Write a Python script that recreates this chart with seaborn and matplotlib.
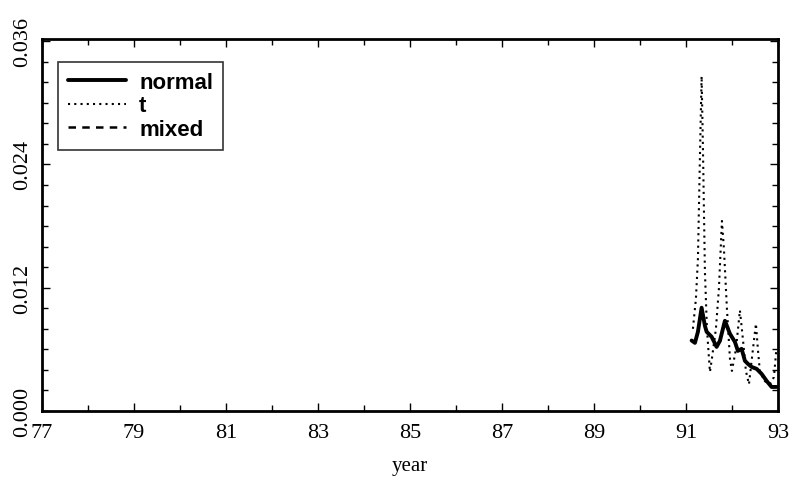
import matplotlib
matplotlib.use("Agg")
import matplotlib.pyplot as plt
import seaborn as sns
import pandas as pd
from matplotlib.ticker import MultipleLocator, FixedLocator

# Estimated volatility series (year, value)
normal_year = [91.124, 91.196, 91.261, 91.341, 91.413, 91.450, 91.559, 91.667,
               91.739, 91.848, 91.957, 92.065, 92.130, 92.211, 92.283, 92.348,
               92.428, 92.537, 92.646, 92.754, 92.863, 92.971]
normal_val = [0.00686, 0.00663, 0.00771, 0.01005, 0.00829, 0.00771, 0.00722, 0.00624,
              0.00683, 0.00878, 0.00751, 0.00673, 0.00585, 0.00605, 0.00488, 0.00459,
              0.00429, 0.00410, 0.00361, 0.00293, 0.00234, 0.00234]

t_year = [91.152, 91.217, 91.261, 91.304, 91.341, 91.370, 91.413, 91.457, 91.522,
          91.565, 91.652, 91.717, 91.783, 91.826, 91.891, 91.957, 92.000, 92.087,
          92.174, 92.239, 92.304, 92.370, 92.457, 92.522, 92.565, 92.609, 92.717,
          92.826, 92.913, 92.967]
t_val = [0.0080, 0.0109, 0.0148, 0.0246, 0.0326, 0.0256, 0.0136, 0.0080, 0.0038,
         0.0051, 0.0080, 0.0119, 0.0185, 0.0158, 0.0100, 0.0051, 0.0039, 0.0060,
         0.0098, 0.0070, 0.0039, 0.0026, 0.0060, 0.0085, 0.0060, 0.0038, 0.0029,
         0.0026, 0.0033, 0.0060]

mixed_year = normal_year
mixed_val = normal_val

x_ticks = [77, 79, 81, 83, 85, 87, 89, 91, 93]
y_ticks = [0.000, 0.012, 0.024, 0.036]

sns.set_theme(style="ticks")
plt.rcParams["font.family"] = ["Liberation Serif", "DejaVu Serif"]

fig = plt.figure(figsize=(7.99, 4.89), dpi=100)
ax = fig.add_axes([0.0526, 0.1575, 0.921, 0.7605])

df_n = pd.DataFrame({"year": normal_year, "value": normal_val})
df_t = pd.DataFrame({"year": t_year, "value": t_val})
df_m = pd.DataFrame({"year": mixed_year, "value": mixed_val})

sns.lineplot(data=df_m, x="year", y="value", ax=ax, color="black", lw=1.8,
             linestyle=(0, (3, 2.5)), label="mixed", sort=False)
sns.lineplot(data=df_t, x="year", y="value", ax=ax, color="black", lw=1.5,
             linestyle=(0, (1, 2.0)), label="t", sort=False)
sns.lineplot(data=df_n, x="year", y="value", ax=ax, color="black", lw=2.8,
             label="normal", sort=False)

ax.set_xlim(77, 93)
ax.set_ylim(0, 0.0362)
ax.xaxis.set_major_locator(FixedLocator(x_ticks))
ax.xaxis.set_minor_locator(MultipleLocator(1))
ax.yaxis.set_major_locator(FixedLocator(y_ticks))
ax.yaxis.set_minor_locator(MultipleLocator(0.002))
ax.set_xticklabels([str(v) for v in x_ticks])
ax.set_yticklabels([f"{v:.3f}" for v in y_ticks], rotation=90, va="center")

ax.tick_params(which="both", direction="in", top=True, right=True,
               colors="black", labelsize=16, width=1.0)
ax.tick_params(which="major", length=6, pad=9)
ax.tick_params(which="minor", length=4)
ax.tick_params(axis="y", pad=7)
for s in ax.spines.values():
    s.set_linewidth(2.0)
    s.set_color("black")

ax.set_xlabel("year", fontsize=15, labelpad=10, color="black")
ax.set_ylabel("")

handles, labels = ax.get_legend_handles_labels()
order = [labels.index("normal"), labels.index("t"), labels.index("mixed")]
leg = ax.legend([handles[i] for i in order], [labels[i] for i in order],
                loc="upper left", bbox_to_anchor=(0.0217, 0.938), borderaxespad=0,
                frameon=True, fancybox=False, edgecolor="black", handlelength=2.6,
                borderpad=0.45, labelspacing=0.1, handletextpad=0.6,
                labelcolor="black",
                prop={"family": "Liberation Sans", "weight": "bold", "size": 16})
leg.get_frame().set_linewidth(1.2)

fig.savefig("out.png", dpi=100, facecolor="white")
